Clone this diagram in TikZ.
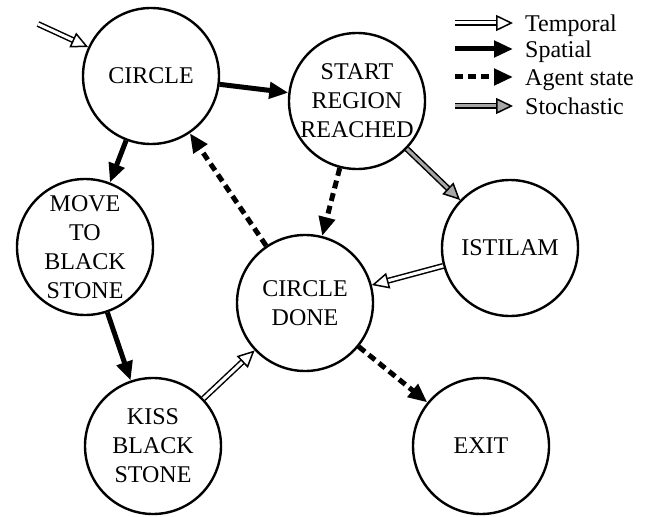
\documentclass[tikz,border=0pt]{standalone}
\usepackage{fontspec}
\setmainfont{Liberation Serif}
\usepackage{tikz}
\usetikzlibrary{
    arrows.meta,
    positioning
}

\newcommand{\diagfont}{\fontsize{24}{29}\selectfont}

\tikzset{
    state/.style={circle, draw, line width=2.4pt, minimum size=136pt, inner sep=0pt, align=center, font=\diagfont},
    spatial/.style={line width=5pt, -{Triangle[length=19pt,width=16pt]}},
    agent/.style={line width=5pt, dash pattern=on 8pt off 5pt, -{Triangle[length=19pt,width=16pt]}},
    temporal/.style={line width=1.5pt, double=white, double distance=3pt, -{Triangle[length=17pt,width=16pt,fill=white]}},
    stochastic/.style={line width=1.5pt, double=black!35, double distance=3pt, -{Triangle[length=17pt,width=16pt,fill=black!35]}},
    legend/.style={anchor=base west, inner sep=0pt, font=\diagfont}
}

\begin{document}
\begin{tikzpicture}[x=1pt, y=-1pt]
    \useasboundingbox (0,0) rectangle (647,516);

    % states
    \node[state] (circle) at (151,76) {CIRCLE};
    \node[state] (start) at (357,101) {START\\REGION\\REACHED};
    \node[state] (move) at (85,247) {MOVE\\TO\\BLACK\\STONE};
    \node[state] (done) at (305,303) {CIRCLE\\DONE};
    \node[state] (istilam) at (510,248) {ISTILAM};
    \node[state] (kiss) at (153,446) {KISS\\BLACK\\STONE};
    \node[state] (exit) at (481,446) {EXIT};

    % transitions
    \coordinate (init) at (38,24);
    \draw[temporal] (init) -- (circle);
    \draw[spatial] (circle) -- (start);
    \draw[spatial] (circle) -- (move);
    \draw[spatial] (move) -- (kiss);
    \draw[agent] (done) -- (circle);
    \draw[agent] (start) -- (done);
    \draw[agent] (done) -- (exit);
    \draw[stochastic] (start) -- (istilam);
    \draw[temporal] (istilam) -- (done);
    \draw[temporal] (kiss) -- (done);

    % legend
    \node[legend] (ltemporal) at (525,31.5) {Temporal};
    \node[legend] (lspatial) at (525,57.5) {Spatial};
    \node[legend] (lagent) at (525,85.5) {Agent state};
    \node[legend] (lstochastic) at (525,114.5) {Stochastic};
    \coordinate (ctemporal) at (455,23);
    \coordinate (cspatial) at (455,49);
    \coordinate (cagent) at (455,77);
    \coordinate (cstochastic) at (455,106);
    \draw[temporal] (ctemporal) -- +(58,0);
    \draw[spatial] (cspatial) -- +(58,0);
    \draw[agent] (cagent) -- +(58,0);
    \draw[stochastic] (cstochastic) -- +(58,0);
\end{tikzpicture}
\end{document}
